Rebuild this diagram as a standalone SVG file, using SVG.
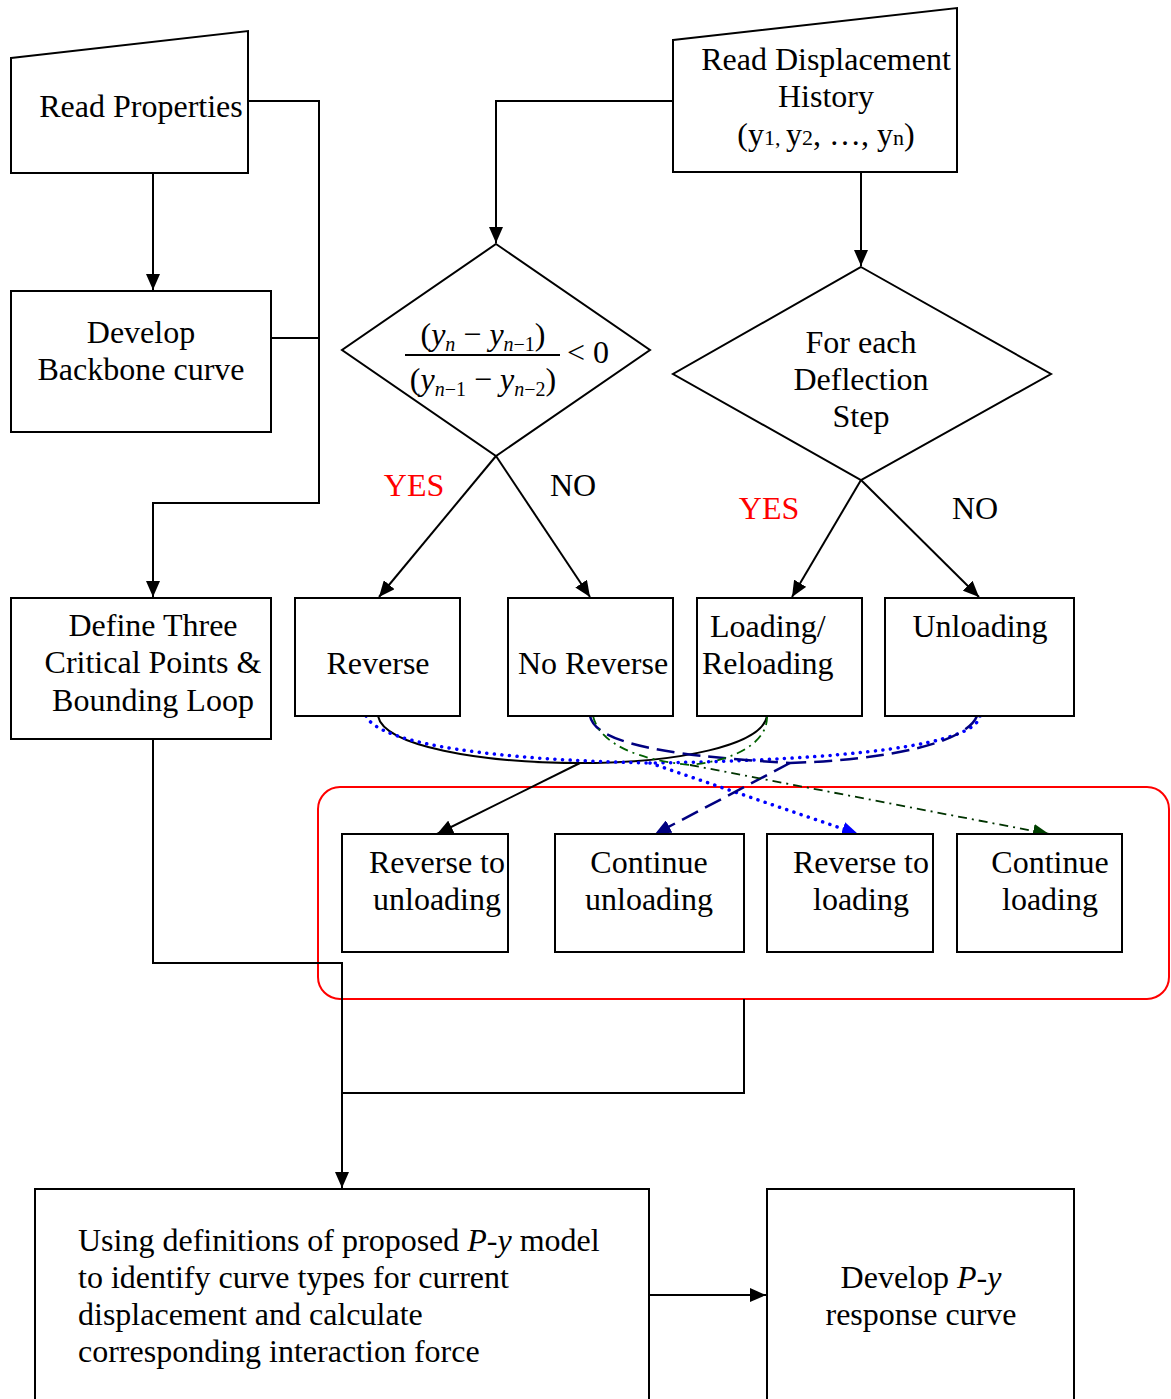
<svg xmlns="http://www.w3.org/2000/svg" width="1171" height="1399" viewBox="0 0 1171 1399">
<defs>
<style>
text{font-family:"Liberation Serif","Times New Roman",serif;font-size:32px;fill:#000}
.c{text-anchor:middle}
.box{fill:#fff;stroke:#000;stroke-width:2}
.ln{fill:none;stroke:#000;stroke-width:2}
.red{fill:#ff0000}
.i{font-style:italic}
</style>
<marker id="ak" viewBox="0 0 16 14" refX="16" refY="7" markerWidth="16" markerHeight="14" markerUnits="userSpaceOnUse" orient="auto"><path d="M0,0L16,7L0,14z" fill="#000"/></marker>
<marker id="ab" viewBox="0 0 16 14" refX="16" refY="7" markerWidth="16" markerHeight="14" markerUnits="userSpaceOnUse" orient="auto"><path d="M0,0L16,7L0,14z" fill="#0000ff"/></marker>
<marker id="an" viewBox="0 0 16 14" refX="16" refY="7" markerWidth="16" markerHeight="14" markerUnits="userSpaceOnUse" orient="auto"><path d="M0,0L16,7L0,14z" fill="#000080"/></marker>
<marker id="ag" viewBox="0 0 16 14" refX="16" refY="7" markerWidth="16" markerHeight="14" markerUnits="userSpaceOnUse" orient="auto"><path d="M0,0L16,7L0,14z" fill="#004000"/></marker>
</defs>
<rect width="1171" height="1399" fill="#fff"/>

<g id="group-box">
<rect x="318" y="787" width="851" height="212" rx="22" fill="none" stroke="#ff0000" stroke-width="2"/>
</g>

<g id="connectors">
<polyline class="ln" points="248,101 319,101 319,503 153,503 153,597" marker-end="url(#ak)"/>
<line class="ln" x1="271" y1="338" x2="319" y2="338"/>
<line class="ln" x1="153" y1="173" x2="153" y2="290" marker-end="url(#ak)"/>
<polyline class="ln" points="153,739 153,963 342,963 342,1188" marker-end="url(#ak)"/>
<polyline class="ln" points="744,999 744,1093 342,1093"/>
<polyline class="ln" points="673,101 496,101 496,243" marker-end="url(#ak)"/>
<line class="ln" x1="861" y1="172" x2="861" y2="266" marker-end="url(#ak)"/>
<line class="ln" x1="496" y1="456" x2="379" y2="597" marker-end="url(#ak)"/>
<line class="ln" x1="496" y1="456" x2="590" y2="597" marker-end="url(#ak)"/>
<line class="ln" x1="861" y1="480" x2="792" y2="597" marker-end="url(#ak)"/>
<line class="ln" x1="861" y1="480" x2="979" y2="597" marker-end="url(#ak)"/>
<line class="ln" x1="649" y1="1295" x2="766" y2="1295" marker-end="url(#ak)"/>
<!-- black solid -->
<path class="ln" d="M378,716 C384,746 480,763 580,763 C680,763 762,745 767,716" stroke-width="2.5"/>
<line class="ln" x1="580" y1="763" x2="437" y2="834" stroke-width="2.5" marker-end="url(#ak)"/>
<!-- blue dotted -->
<path d="M366,716 C380,745 500,760 650,763 M980,716 C975,745 850,760 650,763" fill="none" stroke="#0000ff" stroke-width="3.5" stroke-dasharray="0.1 7.5" stroke-linecap="round"/>
<path d="M650,763 L858,834" fill="none" stroke="#0000ff" stroke-width="3.5" stroke-dasharray="0.1 7.5" stroke-linecap="round" marker-end="url(#ab)"/>
<!-- navy dashed -->
<path d="M590,716 C595,740 650,755 790,763 M977,716 C965,745 880,760 790,763" fill="none" stroke="#000080" stroke-width="2.5" stroke-dasharray="18 8"/>
<path d="M790,763 L655,834" fill="none" stroke="#000080" stroke-width="2.5" stroke-dasharray="18 8" marker-end="url(#an)"/>
<!-- green dash-dot -->
<path d="M593,716 C600,745 640,760 690,765 M767,716 C768,740 740,760 690,765" fill="none" stroke="#006000" stroke-width="1.8" stroke-dasharray="9 5 2 5"/>
<path d="M690,765 L1049,834" fill="none" stroke="#003300" stroke-width="1.8" stroke-dasharray="9 5 2 5" marker-end="url(#ag)"/>
</g>

<g id="read-properties">
<polygon class="box" points="11,58 248,31 248,173 11,173"/>
<text x="141" y="117" class="c">Read Properties</text>
</g>

<g id="develop-backbone">
<rect class="box" x="11" y="291" width="260" height="141"/>
<text x="141" y="343" class="c">Develop</text>
<text x="141" y="380" class="c">Backbone curve</text>
</g>

<g id="define-three">
<rect class="box" x="11" y="598" width="260" height="141"/>
<text x="153" y="636" class="c">Define Three</text>
<text x="153" y="673" class="c">Critical Points &amp;</text>
<text x="153" y="711" class="c">Bounding Loop</text>
</g>

<g id="read-displacement">
<polygon class="box" points="673,40 957,8 957,172 673,172"/>
<text x="826" y="70" class="c">Read Displacement</text>
<text x="826" y="107" class="c">History</text>
<text x="826" y="145" class="c">(y<tspan font-size="22">1</tspan><tspan font-size="22">, </tspan>y<tspan font-size="22">2</tspan>, …, y<tspan font-size="22">n</tspan>)</text>
</g>

<g id="decision-reverse">
<polygon class="box" points="496,244 650,350 496,456 342,350"/>
<text x="483" y="345" class="c">(<tspan class="i">y</tspan><tspan class="i" font-size="20" dy="6">n</tspan><tspan dy="-6"> − </tspan><tspan class="i">y</tspan><tspan font-size="20" dy="6"><tspan class="i">n</tspan>−1</tspan><tspan dy="-6">)</tspan></text>
<line x1="405" y1="355" x2="560" y2="355" stroke="#000" stroke-width="2"/>
<text x="483" y="390" class="c">(<tspan class="i">y</tspan><tspan font-size="20" dy="6"><tspan class="i">n</tspan>−1</tspan><tspan dy="-6"> − </tspan><tspan class="i">y</tspan><tspan font-size="20" dy="6"><tspan class="i">n</tspan>−2</tspan><tspan dy="-6">)</tspan></text>
<text x="567" y="363">&lt; 0</text>
</g>

<g id="decision-step">
<polygon class="box" points="861,267 1051,374 861,480 673,374"/>
<text x="861" y="353" class="c">For each</text>
<text x="861" y="390" class="c">Deflection</text>
<text x="861" y="427" class="c">Step</text>
</g>

<g id="labels">
<text x="414" y="496" class="c red">YES</text>
<text x="573" y="496" class="c">NO</text>
<text x="769" y="519" class="c red">YES</text>
<text x="975" y="519" class="c">NO</text>
</g>

<g id="reverse">
<rect class="box" x="295" y="598" width="165" height="118"/>
<text x="378" y="674" class="c">Reverse</text>
</g>
<g id="no-reverse">
<rect class="box" x="508" y="598" width="165" height="118"/>
<text x="593" y="674" class="c">No Reverse</text>
</g>
<g id="loading-reloading">
<rect class="box" x="697" y="598" width="165" height="118"/>
<text x="710" y="637">Loading/</text>
<text x="702" y="674">Reloading</text>
</g>
<g id="unloading">
<rect class="box" x="885" y="598" width="189" height="118"/>
<text x="980" y="637" class="c">Unloading</text>
</g>

<g id="reverse-to-unloading">
<rect class="box" x="342" y="834" width="166" height="118"/>
<text x="437" y="873" class="c">Reverse to</text>
<text x="437" y="910" class="c">unloading</text>
</g>
<g id="continue-unloading">
<rect class="box" x="555" y="834" width="189" height="118"/>
<text x="649" y="873" class="c">Continue</text>
<text x="649" y="910" class="c">unloading</text>
</g>
<g id="reverse-to-loading">
<rect class="box" x="767" y="834" width="166" height="118"/>
<text x="861" y="873" class="c">Reverse to</text>
<text x="861" y="910" class="c">loading</text>
</g>
<g id="continue-loading">
<rect class="box" x="957" y="834" width="165" height="118"/>
<text x="1050" y="873" class="c">Continue</text>
<text x="1050" y="910" class="c">loading</text>
</g>

<g id="calculate">
<rect class="box" x="35" y="1189" width="614" height="220"/>
<text x="78" y="1251">Using definitions of proposed <tspan class="i">P</tspan>-<tspan class="i">y</tspan> model</text>
<text x="78" y="1288">to identify curve types for current</text>
<text x="78" y="1325">displacement and calculate</text>
<text x="78" y="1362">corresponding interaction force</text>
</g>

<g id="develop-response">
<rect class="box" x="767" y="1189" width="307" height="220"/>
<text x="921" y="1288" class="c">Develop <tspan class="i">P</tspan>-<tspan class="i">y</tspan></text>
<text x="921" y="1325" class="c">response curve</text>
</g>
</svg>
